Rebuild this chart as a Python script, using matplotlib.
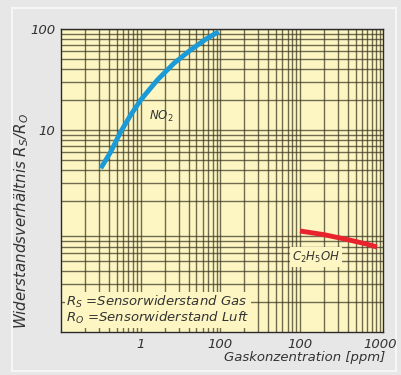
import numpy as np
import matplotlib.pyplot as plt
from matplotlib.patches import Rectangle

# Kennlinien
no2_x = [0.316, 0.422, 0.562, 0.75, 1.0, 1.62, 2.61, 4.22, 6.82, 9.52]
no2_y = [4.18, 6.1, 9.62, 14.1, 19.8, 31.3, 45.7, 61.9, 80.9, 94.0]

eth_x = [100, 200, 400, 700, 920]
eth_y = [1.0, 0.92, 0.82, 0.74, 0.695]

xticks = [1, 10, 100, 1000]
xtick_labels = ["1", "100", "100", "1000"]
yticks = [10, 100]
ytick_labels = ["10", "100"]

fig = plt.figure(figsize=(4.01, 3.75), dpi=100)
fig.patch.set_facecolor("#e7e7e7")
fig.patches.append(
    Rectangle((12 / 401, 4 / 375), 384 / 401, 363 / 375, transform=fig.transFigure,
              facecolor="none", edgecolor="#f6f6f6", lw=1.5, zorder=-1)
)

ax = fig.add_axes([61 / 401, 1 - 332 / 375, 322 / 401, 303 / 375])
ax.set_facecolor("#fdf6c3")
ax.set_xscale("log")
ax.set_yscale("log")
ax.set_xlim(0.1, 1100)
ax.set_ylim(0.1, 100)

ax.grid(True, which="both", color="#3b3520", lw=1.0, alpha=0.72)
for t in ax.xaxis.get_minor_ticks() + ax.xaxis.get_major_ticks():
    if t.get_loc() >= 10:
        t.gridline.set_alpha(0.45)

ax.plot(no2_x, no2_y, color="#1a9ad6", lw=3.5, solid_capstyle="butt",
        solid_joinstyle="round", zorder=3)
ax.plot(eth_x, eth_y, color="#e8232e", lw=3.5, solid_capstyle="butt", zorder=3)

ax.set_xticks(xticks)
ax.set_xticklabels(xtick_labels)
ax.set_yticks(yticks)
ax.set_yticklabels(ytick_labels)
ax.tick_params(which="both", direction="in", length=0, labelsize=9.5,
               labelcolor="#333333", pad=4)
for lab in ax.get_xticklabels() + ax.get_yticklabels():
    lab.set_style("italic")

for s in ax.spines.values():
    s.set_color("#2a2a2a")
    s.set_linewidth(1.0)

ax.text(1.26, 13.5, "NO$_2$", fontsize=8.5, style="italic", color="#333333",
        va="center", ha="left", zorder=4)
ax.text(158, 0.553, "C$_2$H$_5$OH", fontsize=8.5, style="italic", color="#333333",
        va="center", ha="center", zorder=4,
        bbox=dict(facecolor="#fdf6c3", edgecolor="none", pad=1.5))
ax.text(0.117, 0.165, "R$_S$ =Sensorwiderstand Gas\nR$_O$ =Sensorwiderstand Luft",
        fontsize=9.5, style="italic", color="#333333", va="center", ha="left",
        linespacing=1.0, zorder=4,
        bbox=dict(facecolor="#fdf6c3", edgecolor="none", pad=1))

fig.text(22 / 401, 1 - 221 / 375, "Widerstandsverhältnis R$_S$/R$_O$",
         rotation=90, fontsize=10.8, style="italic", color="#333333",
         ha="center", va="center")
fig.text(305 / 401, 1 - 358 / 375, "Gaskonzentration [ppm]", fontsize=9.5,
         style="italic", color="#333333", ha="center", va="center")

fig.savefig("out.png", dpi=100, facecolor=fig.get_facecolor())
